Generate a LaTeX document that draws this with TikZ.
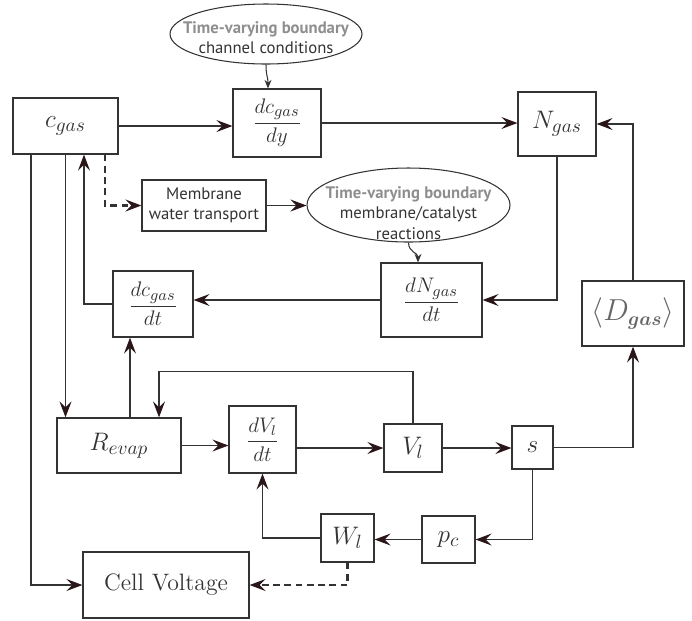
\documentclass[tikz,border=0pt]{standalone}
\usepackage{amsmath}
\usepackage{fontspec}
\setsansfont{PT Sans}
\usetikzlibrary{arrows.meta,positioning,calc,shapes.geometric}
\definecolor{ink}{HTML}{333333}
\definecolor{tipcol}{HTML}{2A1519}
\definecolor{bndcol}{HTML}{8E8E8E}

\begin{document}
\begin{tikzpicture}[
  blk/.style={draw=ink, line width=0.7pt, inner sep=0pt, align=center, text=ink},
  bnd/.style={draw=ink, line width=0.6pt, ellipse, inner sep=0pt},
  bndtxt/.style={align=center, text=ink, font=\sffamily\fontsize{9.5}{11.5}\selectfont},
  wire/.style={draw=ink, line width=0.6pt,
              -{Stealth[length=3.2mm, width=2.4mm, inset=1.2mm, color=tipcol]}},
  dwire/.style={wire, line width=1.2pt, dash pattern=on 3.8pt off 2.6pt},
  hook/.style={draw=ink, line width=0.6pt, -{Stealth[length=1.7mm, width=1.4mm]}},
  big/.style={font=\fontsize{15}{18}\selectfont},
  frc/.style={font=\fontsize{13}{15}\selectfont}]

\useasboundingbox (0,0) rectangle (13.84,-12.4);

% ---------------------------------------------------------------- gas channel
\node[blk, big, minimum width=2.1cm, minimum height=1.12cm] (cgas) at (1.31,-2.52) {$c_{gas}$};
\node[blk, frc, minimum width=1.76cm, minimum height=1.36cm] (dcdy) at (5.54,-2.46) {$\dfrac{dc_{gas}}{dy}$};
\node[bnd, minimum width=3.84cm, minimum height=1.2cm] (chan) at (5.32,-0.68) {};
\node[bndtxt] (chantxt) at ($(chan.center)+(0,-0.08)$)
  {\textcolor{bndcol}{\textbf{Time-varying boundary}}\\channel conditions};
\node[blk, big, minimum width=1.56cm, minimum height=1.28cm] (Ngas) at (11.14,-2.48) {$N_{gas}$};

% ---------------------------------------------------------------- membrane
\node[blk, font=\sffamily\fontsize{9.5}{11.5}\selectfont, minimum width=2.48cm, minimum height=1.02cm]
  (memb) at (4.08,-4.11) {Membrane\\water transport};
\node[bnd, minimum width=4.06cm, minimum height=1.48cm] (reac) at (8.17,-4.1) {};
\node[bndtxt] (reactxt) at ($(reac.center)+(0,-0.16)$)
  {\textcolor{bndcol}{\textbf{Time-varying boundary}}\\membrane/catalyst\\reactions};

% ---------------------------------------------------------------- rates
\node[blk, frc, minimum width=2.02cm, minimum height=1.48cm] (dNdt) at (8.63,-6.0) {$\dfrac{dN_{gas}}{dt}$};
\node[blk, frc, minimum width=1.6cm, minimum height=1.32cm] (dcdt) at (3.06,-6.08) {$\dfrac{dc_{gas}}{dt}$};
\node[blk, font=\fontsize{16}{18}\selectfont, text=ink!75, minimum width=2.04cm, minimum height=1.3cm]
  (Dgas) at (12.66,-6.27) {$\langle D_{\boldsymbol{gas}}\rangle$};

% ---------------------------------------------------------------- liquid water
\node[blk, big, minimum width=2.48cm, minimum height=1.1cm] (Revap) at (2.38,-8.91) {$R_{evap}$};
\node[blk, font=\fontsize{11.5}{13}\selectfont, minimum width=1.34cm, minimum height=1.34cm]
  (dVdt) at (5.25,-8.79) {$\dfrac{dV_l}{dt}$};
\node[blk, big, minimum width=1.16cm, minimum height=0.96cm] (Vl) at (8.26,-8.96) {$V_l$};
\node[blk, big, minimum width=0.82cm, minimum height=0.86cm] (sat) at (10.65,-8.95) {$s$};
\node[blk, big, minimum width=1.06cm, minimum height=0.94cm] (pc) at (8.97,-10.79) {$p_c$};
\node[blk, big, minimum width=1.06cm, minimum height=0.96cm] (Wl) at (6.95,-10.76) {$W_l$};
\node[blk, font=\fontsize{13.5}{16}\selectfont, minimum width=3.32cm, minimum height=1.32cm]
  (volt) at (3.32,-11.7) {Cell Voltage};

% ---------------------------------------------------------------- helper points
\coordinate (up)  at ($(cgas.south)+(0.37,0)$);
\coordinate (mw)  at ($(cgas.south)+(0.79,0)$);
\coordinate (cv)  at ($(cgas.south)+(-0.69,0)$);
\coordinate (rv)  at ($(Revap.north)+(0.22,0)$);
\coordinate (fb)  at ($(Revap.north)+(0.8,0)$);
\coordinate (cin) at ($(dcdy.north)+(-0.18,0)$);
\coordinate (nin) at ($(dNdt.north)+(-0.27,0)$);

% ---------------------------------------------------------------- connectors
\draw[wire] (cgas.east) -- (cgas.east -| dcdy.west);
\draw[wire] (dcdy.east) -- (dcdy.east -| Ngas.west);
\draw[hook] (chan.south) .. controls +(0,-0.25) and +(0,0.25) .. (cin);
\draw[wire] (Dgas.north) |- (Ngas.east);
\draw[wire] (Ngas.south) |- (dNdt.east);
\draw[wire] (dNdt.west) -- (dNdt.west -| dcdt.east);
\draw[wire] (dcdt.west) -| (up);
\draw[dwire] (mw) |- (memb.west);
\draw[wire] (memb.east) -- (memb.east -| reac.west);
\draw[hook] (reac.south) .. controls +(0,-0.2) and +(0,0.2) .. (nin);
\draw[wire] (cgas.south) -- (cgas.south |- Revap.north);
\draw[wire] (cv) |- (volt.west);
\draw[wire] (rv) -- (rv |- dcdt.south);
\draw[wire] (Vl.north) -- ++(0,1.04) -| (fb);
\draw[wire] (Revap.east) -- (Revap.east -| dVdt.west);
\draw[wire] (Vl.west -| dVdt.east) -- (Vl.west);
\draw[wire] (Vl.east) -- (Vl.east -| sat.west);
\draw[wire] (sat.east) -| (Dgas.south);
\draw[wire] (sat.south) |- (pc.east);
\draw[wire] (pc.west) -- (pc.west -| Wl.east);
\draw[wire] (Wl.west) -| (dVdt.south);
\draw[dwire] (Wl.south) |- (volt.east);

\end{tikzpicture}
\end{document}
